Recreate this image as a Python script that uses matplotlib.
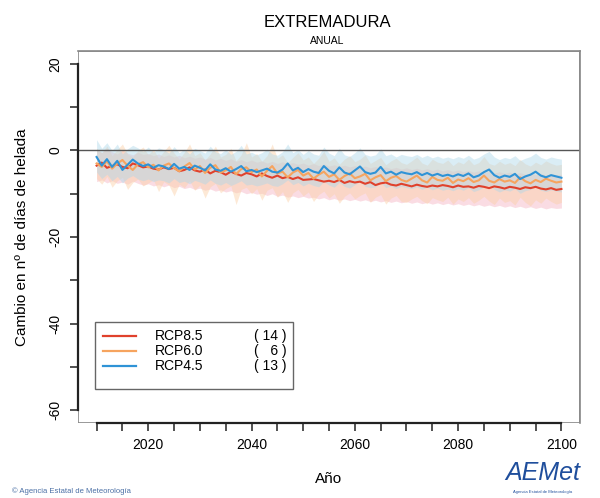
import numpy as np
import matplotlib.pyplot as plt
from matplotlib.patches import Rectangle
from matplotlib.lines import Line2D

plt.rcParams['font.family'] = ['Liberation Sans', 'DejaVu Sans']

# Años de la proyección
anios = np.arange(2010, 2101)

# RCP8.5 - media y banda
rcp85_media = [-3.5, -2.8, -4.0, -3.6, -3.2, -3.8, -4.1, -3.0, -3.4, -3.9,
               -3.7, -4.2, -4.4, -3.9, -4.3, -4.0, -4.8, -4.5, -3.9, -4.6,
               -4.9, -4.4, -5.3, -4.7, -5.0, -5.6, -4.9, -5.4, -5.8, -5.2,
               -5.5, -6.0, -5.3, -5.9, -6.3, -5.8, -6.4, -6.1, -6.6, -6.2,
               -6.8, -6.7, -6.6, -6.9, -7.2, -7.0, -7.3, -6.8, -7.5, -7.1,
               -7.4, -7.2, -7.7, -7.3, -8.0, -7.6, -7.4, -7.9, -8.1, -7.7,
               -8.0, -8.3, -7.9, -8.2, -8.4, -8.1, -8.3, -8.0, -8.2, -8.5,
               -8.1, -8.4, -8.3, -8.6, -8.2, -8.4, -8.7, -8.3, -8.5, -8.8,
               -8.4, -8.6, -8.9, -8.5, -8.7, -8.4, -8.8, -9.0, -8.7, -9.1,
               -8.9]
rcp85_min = [-7.2, -6.8, -7.5, -7.0, -7.6, -7.3, -7.8, -7.1, -7.6, -8.0,
             -7.7, -8.2, -7.9, -8.4, -8.0, -8.6, -8.3, -8.8, -8.5, -9.0,
             -8.7, -9.2, -8.9, -9.4, -9.1, -9.6, -9.3, -9.8, -9.5, -10.0,
             -9.7, -10.1, -9.9, -10.4, -10.0, -10.6, -10.3, -10.8, -10.5, -10.9,
             -10.6, -11.0, -10.8, -11.2, -10.9, -11.4, -11.1, -11.5, -11.2, -11.6,
             -11.3, -11.7, -11.4, -11.8, -11.5, -11.9, -11.6, -12.0, -11.7, -12.1,
             -11.8, -12.2, -11.9, -12.3, -12.0, -12.4, -12.1, -12.5, -12.2, -12.6,
             -12.3, -12.7, -12.4, -12.8, -12.5, -12.9, -12.6, -13.0, -12.7, -13.1,
             -12.8, -13.2, -12.9, -13.3, -13.0, -13.4, -13.1, -13.5, -13.2, -13.4,
             -13.3]
rcp85_max = [0.2, -0.5, 0.5, -0.3, -0.8, 0.1, -0.6, -1.0, -0.4, -0.9,
             -0.7, -1.2, -0.8, -1.4, -1.0, -1.5, -1.1, -1.7, -1.3, -1.8,
             -1.5, -2.0, -1.6, -2.2, -1.8, -2.3, -1.9, -2.5, -2.1, -2.6,
             -2.2, -2.7, -2.4, -2.9, -2.5, -3.0, -2.6, -3.1, -2.8, -3.2,
             -2.9, -3.4, -3.0, -3.5, -3.1, -3.6, -3.3, -3.7, -3.4, -3.8,
             -3.5, -3.9, -3.6, -4.0, -3.7, -4.1, -3.8, -4.2, -3.9, -4.3,
             -4.0, -4.4, -4.1, -4.5, -4.2, -4.6, -4.3, -4.7, -4.4, -4.8,
             -4.5, -4.9, -4.6, -5.0, -4.7, -5.1, -4.8, -5.2, -4.9, -5.3,
             -5.0, -5.4, -5.1, -5.5, -5.2, -5.6, -5.3, -5.7, -5.4, -5.6,
             -5.5]

# RCP6.0 - media y banda
rcp60_media = [-3.0, -3.8, -2.5, -4.2, -3.0, -2.2, -3.5, -4.5, -3.2, -2.7,
               -3.9, -3.3, -4.6, -3.5, -3.0, -4.1, -4.8, -3.7, -2.9, -4.4,
               -3.6, -5.2, -4.0, -3.4, -5.1, -4.6, -3.8, -5.5, -4.3, -3.9,
               -5.0, -4.4, -6.0, -4.7, -3.6, -5.3, -4.9, -6.2, -5.1, -4.5,
               -5.8, -5.2, -6.5, -5.6, -4.9, -6.1, -5.5, -6.8, -5.9, -5.3,
               -6.4, -6.0, -5.4, -6.9, -6.2, -5.7, -7.1, -6.3, -5.9, -6.8,
               -7.2, -6.5, -5.8, -6.9, -7.4, -6.1, -6.8, -7.0, -6.3, -7.5,
               -6.7, -7.1, -6.4, -7.3, -6.9, -5.8, -7.0, -7.4, -6.6, -7.2,
               -6.9, -7.5, -6.2, -7.1, -7.6, -6.8, -7.3, -6.5, -7.0, -7.4,
               -7.2]
rcp60_min = [-6.5, -7.8, -6.0, -8.5, -7.0, -6.2, -9.0, -7.4, -6.6, -8.2,
             -7.5, -6.8, -9.5, -7.2, -8.0, -10.5, -7.8, -8.6, -7.0, -9.2,
             -8.0, -11.0, -8.4, -7.6, -9.8, -8.8, -8.2, -12.5, -9.0, -8.5,
             -10.0, -8.8, -11.5, -9.2, -8.6, -10.8, -9.5, -12.0, -9.8, -9.0,
             -10.5, -9.6, -11.8, -10.2, -9.4, -11.0, -10.0, -12.2, -10.6, -9.8,
             -11.2, -10.4, -9.8, -12.0, -10.8, -10.2, -12.4, -11.0, -10.4, -11.8,
             -12.0, -11.2, -10.6, -11.6, -12.3, -10.9, -11.4, -11.8, -10.8, -12.4,
             -11.2, -11.8, -10.9, -12.2, -11.5, -10.6, -11.7, -12.5, -11.0, -12.0,
             -11.6, -12.6, -10.8, -12.0, -12.8, -11.4, -12.2, -11.0, -11.8, -12.4,
             -12.0]
rcp60_max = [0.5, -0.5, 1.0, -1.2, 0.2, 1.5, -0.8, -1.5, 0.0, 0.8,
             -1.0, 0.3, -1.8, -0.2, 1.2, -0.6, -2.0, -0.4, 1.5, -1.2,
             -0.5, -2.2, -0.8, 1.0, -1.5, -0.9, 0.5, -2.4, -1.0, 1.8,
             -1.5, -0.7, -2.5, -1.2, 1.5, -1.8, -1.0, -2.8, -1.6, -0.5,
             -2.2, -1.5, -3.0, -1.8, -0.2, -2.5, -1.7, -3.2, -2.0, -1.2,
             -2.6, -2.0, -1.0, -3.0, -2.3, -1.6, -3.3, -2.4, -1.8, -2.8,
             -3.2, -2.4, -1.5, -2.9, -3.4, -2.0, -2.7, -3.0, -2.2, -3.5,
             -2.6, -3.1, -2.0, -3.3, -2.8, -1.4, -3.0, -3.4, -2.5, -3.2,
             -2.8, -3.5, -2.1, -3.1, -3.6, -2.7, -3.3, -2.4, -3.0, -3.4,
             -3.2]

# RCP4.5 - media y banda
rcp45_media = [-1.5, -3.5, -2.0, -3.8, -2.4, -4.5, -3.3, -2.1, -3.0, -3.6,
               -3.2, -4.0, -3.4, -3.7, -4.3, -3.1, -4.2, -3.8, -4.5, -3.5,
               -4.0, -4.6, -3.2, -4.4, -4.7, -4.1, -4.9, -4.3, -3.6, -4.8,
               -4.5, -5.0, -4.6, -4.2, -4.9, -5.1, -4.4, -3.0, -4.6, -4.0,
               -5.0, -4.3, -4.9, -5.2, -3.6, -4.7, -5.3, -3.9, -5.1, -5.5,
               -4.6, -3.7, -5.0, -5.4, -5.1, -3.8, -5.3, -4.9, -5.6, -5.0,
               -5.3, -5.5, -5.0, -5.7, -5.2, -5.8, -5.4, -5.9, -5.6, -6.0,
               -5.5, -5.9, -5.3, -6.2, -5.8, -5.0, -4.4, -5.7, -6.3, -5.8,
               -6.1, -5.4, -6.6, -6.0, -5.6, -4.9, -5.8, -6.2, -5.7, -6.0,
               -6.3]
rcp45_min = [-5.0, -6.5, -5.5, -7.0, -6.0, -7.5, -6.4, -5.8, -6.6, -7.0,
             -6.6, -7.2, -6.8, -7.0, -7.5, -6.5, -7.4, -7.1, -7.7, -6.9,
             -7.3, -7.8, -6.8, -7.6, -8.0, -7.4, -8.1, -7.6, -7.0, -8.0,
             -7.8, -8.2, -7.9, -7.5, -8.1, -8.3, -7.7, -6.8, -7.9, -7.4,
             -8.2, -7.6, -8.1, -8.4, -7.2, -8.0, -8.5, -7.4, -8.3, -8.7,
             -7.9, -7.2, -8.3, -8.6, -8.4, -7.4, -8.6, -8.2, -8.8, -8.3,
             -8.6, -8.8, -8.4, -9.0, -8.5, -9.1, -8.7, -9.2, -8.9, -9.3,
             -8.8, -9.2, -8.6, -9.5, -9.1, -8.4, -8.0, -9.0, -9.6, -9.1,
             -9.4, -8.8, -9.9, -9.3, -9.0, -8.4, -9.2, -9.5, -9.1, -9.4,
             -9.6]
rcp45_max = [2.5, 0.5, 1.8, 0.0, 1.5, -0.8, 0.4, 1.2, 0.6, -0.2,
             0.8, -0.4, 0.6, 0.2, -0.6, 0.9, -0.5, 0.3, -0.8, 0.5,
             0.0, -0.6, 1.0, -0.3, -0.7, 0.2, -0.9, -0.2, 1.2, -0.8,
             -0.4, -1.0, -0.5, 0.3, -0.8, -1.1, -0.3, 1.5, -0.5, 0.2,
             -0.9, 0.0, -0.8, -1.1, 0.8, -0.6, -1.2, 0.5, -1.0, -1.4,
             -0.5, 0.6, -0.9, -1.3, -1.0, 0.4, -1.2, -0.8, -1.5, -0.9,
             -1.2, -1.4, -0.9, -1.6, -1.1, -1.7, -1.3, -1.8, -1.5, -1.9,
             -1.4, -1.8, -1.1, -2.0, -1.6, -0.8, -0.2, -1.5, -2.1, -1.6,
             -1.9, -1.2, -2.3, -1.8, -1.4, -0.6, -1.6, -2.0, -1.5, -1.8,
             -2.0]

escenarios = ["RCP8.5", "RCP6.0", "RCP4.5"]
n_modelos = ["( 14 )", "(   6 )", "( 13 )"]
medias = [rcp85_media, rcp60_media, rcp45_media]
minimos = [rcp85_min, rcp60_min, rcp45_min]
maximos = [rcp85_max, rcp60_max, rcp45_max]

color_linea = ["#e0412c", "#f6a45f", "#2f93d6"]
color_banda = ["#f5b3c2", "#fbcfa6", "#aed8ea"]

fig = plt.figure(figsize=(6, 4.98), dpi=100)
ax = fig.add_axes([0.13, 0.1506, 0.8367, 0.747])

for i in range(3):
    ax.fill_between(anios, minimos[i], maximos[i], color=color_banda[i],
                    alpha=0.45, linewidth=0)
ax.axhline(0, color="#555555", linewidth=1.0)
for i in range(3):
    ax.plot(anios, medias[i], color=color_linea[i], linewidth=1.5)

ax.set_xlim(2006.4, 2103.6)
ax.set_ylim(-63, 23)

# caja gris + ejes oscuros estilo R
for s in ax.spines.values():
    s.set_color("#888888")
    s.set_linewidth(1.2)
ax.spines["left"].set_bounds(-60, 20)
ax.spines["left"].set_color("#222222")
ax.spines["left"].set_linewidth(1.6)
ax.spines["bottom"].set_bounds(2010, 2100)
ax.spines["bottom"].set_color("#222222")
ax.spines["bottom"].set_linewidth(1.6)
ax.add_patch(Rectangle((0, 0), 1, 1, transform=ax.transAxes, fill=False,
                       edgecolor="#888888", linewidth=1.2, zorder=0.5))

ax.set_yticks(np.arange(-60, 21, 10))
ax.set_yticklabels(["-60", "", "-40", "", "-20", "", "0", "", "20"],
                   rotation=90, va="center", fontsize=10)
ax.set_xticks(np.arange(2010, 2101, 5))
ax.set_xticklabels([str(a) if a % 20 == 0 else "" for a in range(2010, 2101, 5)],
                   fontsize=10)
ax.tick_params(axis="both", length=6, width=1.2, color="#333333", pad=5)

ax.set_xlabel("Año", fontsize=11, labelpad=14)
ax.set_ylabel("Cambio en nº de días de helada", fontsize=11, labelpad=14)

fig.text(0.546, 0.955, "EXTREMADURA", ha="center", va="center", fontsize=12)
fig.text(0.546, 0.918, "ANUAL", ha="center", va="center", fontsize=7.5)

# leyenda manual
ax.add_patch(Rectangle((0.034, 0.091), 0.394, 0.181, transform=ax.transAxes,
                       fill=True, facecolor="white", edgecolor="#666666",
                       linewidth=1.0, zorder=5))
ys = [0.234, 0.194, 0.153]
for i in range(3):
    ax.add_line(Line2D([0.05, 0.115], [ys[i], ys[i]], transform=ax.transAxes,
                       color=color_linea[i], linewidth=1.6, zorder=6))
    ax.text(0.153, ys[i], escenarios[i], transform=ax.transAxes, fontsize=10,
            va="center", zorder=6)
    ax.text(0.415, ys[i], n_modelos[i], transform=ax.transAxes, fontsize=10,
            va="center", ha="right", zorder=6)

fig.text(0.02, 0.014, "© Agencia Estatal de Meteorología", fontsize=5.5,
         color="#4a6fa5", va="center")
fig.text(0.905, 0.05, "AEMet", fontsize=18, color="#1f4e9c", style="italic",
         ha="center", va="center")
fig.text(0.905, 0.012, "Agencia Estatal de Meteorología", fontsize=3,
         color="#1f4e9c", ha="center", va="center")

fig.savefig("out.png", dpi=100)
